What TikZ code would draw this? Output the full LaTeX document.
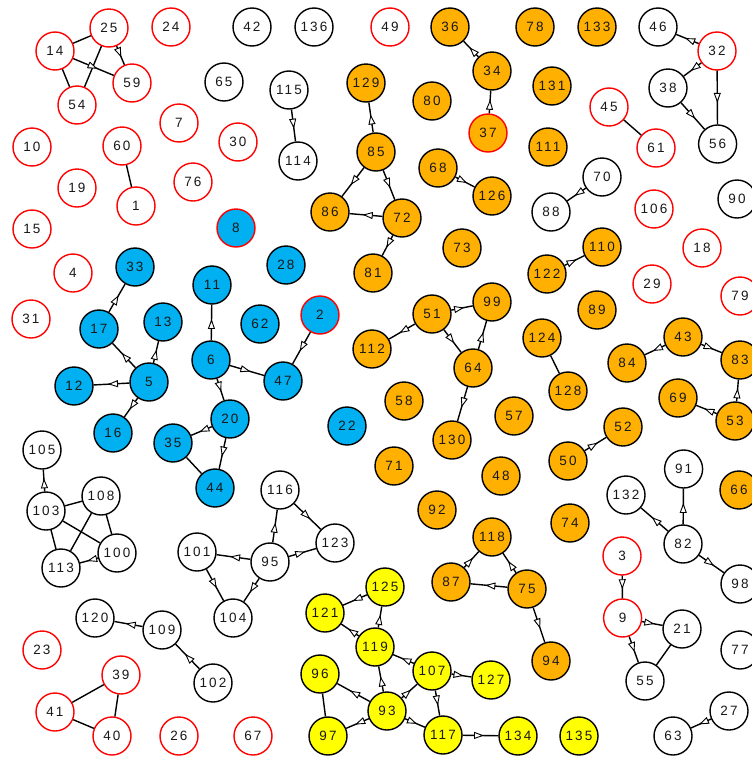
\documentclass[tikz,border=0pt]{standalone}
\usepackage{fontspec}
\setmainfont{Liberation Sans}[LetterSpace=15]
\usetikzlibrary{decorations.markings,arrows.meta}
\definecolor{cblue}{RGB}{0,176,240}
\definecolor{corange}{RGB}{255,176,0}
\definecolor{cyellow}{RGB}{255,255,0}
\tikzset{
  nd/.style={circle, minimum size=38pt, inner sep=0pt, line width=1.4pt, text=black!90, font=\fontsize{13.5}{13.5}\selectfont},
  rw/.style={nd, draw=red, fill=white},
  bw/.style={nd, draw=black, fill=white},
  bl/.style={nd, draw=black, fill=cblue},
  br/.style={nd, draw=red, fill=cblue},
  or/.style={nd, draw=black, fill=corange},
  orr/.style={nd, draw=red, fill=corange},
  ye/.style={nd, draw=black, fill=cyellow},
  ed/.style={line width=1.4pt},
  ar/.style={ed, postaction={decorate}, decoration={markings, mark=at position 0.6 with {\arrow{Triangle[fill=white,length=10pt,width=7pt,line width=0.9pt]}}}}
}
\begin{document}
\begin{tikzpicture}[x=1pt,y=-1pt]
\useasboundingbox (0,0) rectangle (752,758);
% red-border white nodes
\foreach \n/\x/\y in {25/109/28, 14/55/51, 59/132/83, 54/77/105, 24/171/27, 7/179/123, 10/32/147, 60/122/146, 19/77/188, 1/136/206, 76/193/182, 15/32/229, 30/238/142, 49/390/27, 32/717/51, 45/609/107, 61/656/148, 106/654/209, 18/702/248, 4/73/273, 31/31/319, 29/652/284, 79/740/296, 3/622/556, 9/622.6/618, 23/42/650, 39/121/675, 41/55/712, 40/112/736, 26/179/736, 67/253/736}
  \node[rw] (n\n) at (\x,\y) {\n};
% black-border white nodes
\foreach \n/\x/\y in {42/252/27, 136/314/27, 65/224/82, 115/289/90, 114/298/161, 46/658/27, 38/668/88, 56/717.6/144, 70/602/177, 88/551/212, 90/737/199, 105/42/450, 103/46/511, 108/101/496, 113/61/568, 100/117/553, 116/280/490, 123/335/543, 101/197/552, 95/270/562, 104/233/618, 120/95/618, 109/162/630, 102/213/683, 91/683.6/469, 132/626/495, 82/683/544, 98/740/584, 21/682/629, 77/740/650, 55/645/681, 27/729/711, 63/673/736}
  \node[bw] (n\n) at (\x,\y) {\n};
% blue nodes
\foreach \n/\x/\y in {33/135/267, 17/99/329, 13/163/322, 12/74/386, 5/149/382, 16/113/433, 35/173/443, 11/212/285, 28/286/265, 62/260/324, 6/211/360, 47/283/381, 20/230/419, 22/347/426, 44/215/488}
  \node[bl] (n\n) at (\x,\y) {\n};
\node[br] (n8) at (236,228) {8};
\node[br] (n2) at (320,315) {2};
% orange nodes
\foreach \n/\x/\y in {36/450/27, 78/535/27, 133/597/27, 129/366/83, 34/492/71, 80/432/101, 131/552/86, 85/376/152, 111/548/147, 68/438/168, 126/492/196, 86/330/212, 72/402/218, 73/462/248, 81/373/273, 110/602/247, 122/547/274, 99/492/302, 51/432/314, 112/372/349, 124/542/338, 64/473/368, 89/597/310, 43/683/337, 84/627/363, 83/740/360, 58/404/401, 57/514/416, 128/568/391, 130/452/440, 69/678/398, 53/735/421, 52/623/427, 50/568/461, 71/394/466, 48/501/476, 92/437/510, 66/739/490, 74/570/523, 118/492/537, 87/451/582, 75/527/589, 94/551/661}
  \node[or] (n\n) at (\x,\y) {\n};
\node[orr] (n37) at (488,133) {37};
% yellow nodes
\foreach \n/\x/\y in {125/385/587, 121/325/613, 119/375/647, 96/320/674, 107/432/671, 127/491/680, 93/387/711, 97/328/736, 117/443/735, 134/518/736, 135/579/736}
  \node[ye] (n\n) at (\x,\y) {\n};
% undirected edges
\foreach \a/\b in {14/25, 14/54, 25/54, 60/1, 45/61, 35/44, 124/128, 103/108, 103/100, 103/113, 108/113, 108/100, 39/41, 39/40, 41/40, 96/97, 21/55}
  \draw[ed] (n\a) -- (n\b);
% directed edges
\foreach \a/\b in {25/59, 14/59, 115/114, 85/129, 85/86, 85/72, 72/86, 72/81, 34/36, 37/34, 68/126, 70/88, 122/110, 32/46, 32/38, 32/56, 38/56, 17/33, 5/17, 5/13, 5/12, 5/16, 103/105, 6/11, 6/47, 2/47, 6/20, 20/35, 20/44, 51/99, 51/112, 51/64, 64/99, 64/130, 43/84, 43/83, 53/83, 53/69, 50/52, 82/91, 82/132, 82/98, 100/113, 109/120, 102/109, 95/116, 116/123, 95/123, 95/101, 101/104, 95/104, 125/121, 119/121, 119/125, 93/119, 93/96, 93/97, 87/118, 75/118, 75/87, 75/94, 107/119, 93/107, 107/127, 107/117, 93/117, 117/134, 3/9, 9/21, 9/55, 27/63}
  \draw[ar] (n\a) -- (n\b);
\end{tikzpicture}
\end{document}
